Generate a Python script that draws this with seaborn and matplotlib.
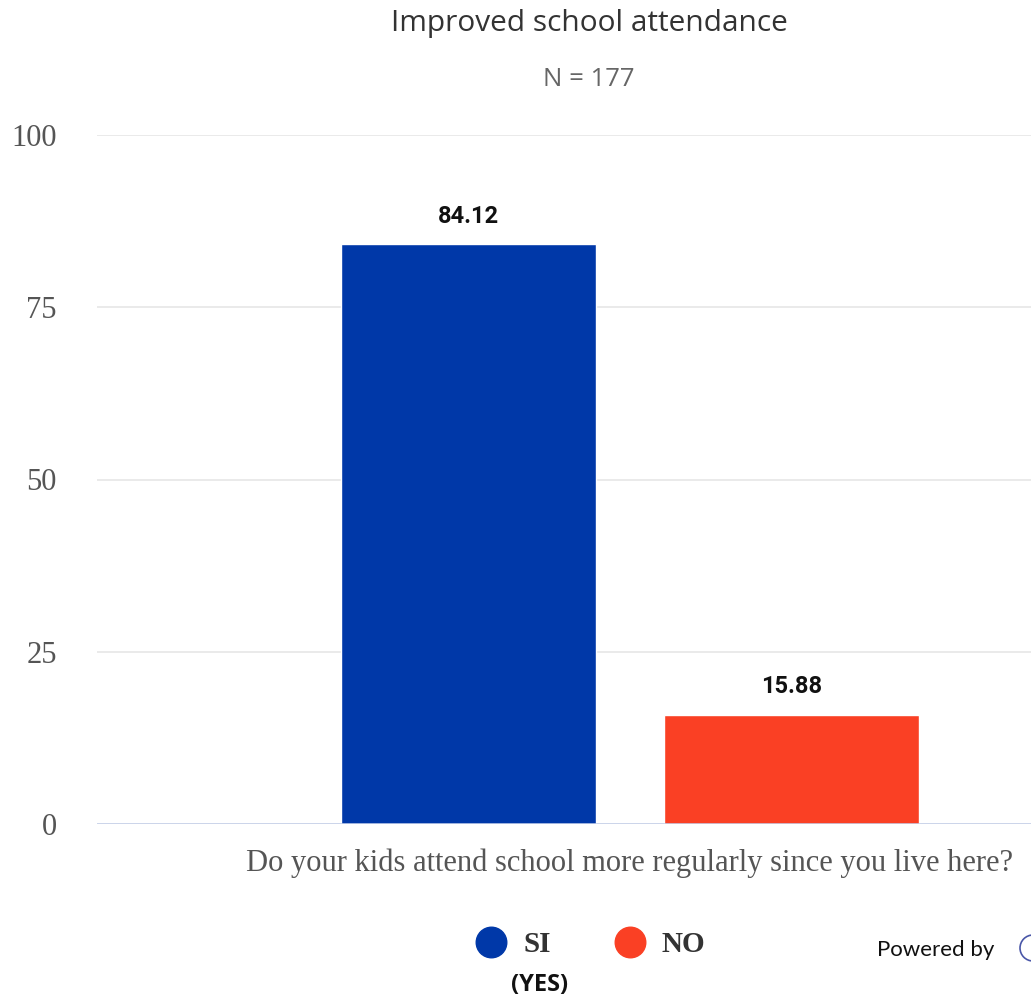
import matplotlib
matplotlib.use("Agg")
import matplotlib.pyplot as plt
from matplotlib.lines import Line2D
from matplotlib.patches import Ellipse
import pandas as pd
import seaborn as sns

# Survey data
TITLE = "Improved school attendance"
SUBTITLE = "N = 177"
QUESTION = "Do your kids attend school more regularly since you live here?"
ANSWERS = ["SI", "NO"]
PERCENTS = [84.12, 15.88]
COLORS = ["#0038a8", "#fa4024"]
Y_TICKS = [0, 25, 50, 75, 100]

sns.set_theme(style="white")

df = pd.DataFrame({
    "question": [QUESTION] * len(ANSWERS),
    "answer": ANSWERS,
    "pct": PERCENTS,
})

W, H = 1031, 999
fig = plt.figure(figsize=(W / 100, H / 100), dpi=100)
fig.patch.set_facecolor("white")

# plot area runs past the right edge of the canvas
ax = fig.add_axes([97 / W, 175 / H, 1066 / W, 689 / H])

sns.barplot(
    data=df, x="question", y="pct", hue="answer",
    palette=dict(zip(ANSWERS, COLORS)), hue_order=ANSWERS,
    width=0.605, gap=0.209, saturation=1, legend=False, ax=ax,
)

ax.set_xlim(-0.5, 0.5)
ax.set_ylim(0, 100)
ax.set_yticks(Y_TICKS)
ax.set_yticklabels([str(t) for t in Y_TICKS])
ax.set_xlabel("")
ax.set_ylabel("")

for s in ax.spines.values():
    s.set_visible(False)

ax.yaxis.grid(True, color="#e6e6e6", linewidth=1.2)
ax.set_axisbelow(True)
ax.axhline(0, color="#c3cfea", linewidth=1.8, zorder=3)

ax.tick_params(axis="y", length=0, pad=29, labelsize=22, labelcolor="#555555")
ax.tick_params(axis="x", length=0, pad=18, labelsize=22, labelcolor="#555555")
for lab in ax.get_yticklabels() + ax.get_xticklabels():
    lab.set_fontfamily("Liberation Serif")

# value labels on the bars
for cont in ax.containers:
    ax.bar_label(cont, fmt="%.2f", padding=12, fontsize=17,
                 fontweight="bold", fontfamily="Roboto", color="#111111")

# titles
fig.text(589 / W, 1 - 23 / H, TITLE, ha="center", va="center",
         fontsize=21.5, fontfamily="Open Sans", color="#333333")
fig.text(589 / W, 1 - 79 / H, SUBTITLE, ha="center", va="center",
         fontsize=18.5, fontfamily="Open Sans", color="#666666")

# legend
handles = [Line2D([], [], marker="o", linestyle="", markersize=22,
                  markerfacecolor=c, markeredgecolor=c) for c in COLORS]
leg = fig.legend(handles, ANSWERS, loc="center", bbox_to_anchor=(591 / W, 1 - 945 / H),
                 ncol=2, frameon=False, handlelength=1.0, handletextpad=0.6,
                 columnspacing=2.2, prop={"family": "Liberation Serif",
                                          "weight": "bold", "size": 21})
for t in leg.get_texts():
    t.set_color("#333333")

fig.text(540 / W, 1 - 985 / H, "(YES)", ha="center", va="center",
         fontsize=17, fontweight="bold", fontfamily="Open Sans", color="#111111")

fig.text(877 / W, 1 - 950 / H, "Powered by", ha="left", va="center",
         fontsize=16, fontfamily="Lato", color="#111111")
fig.add_artist(Ellipse((1033 / W, 1 - 948 / H), 26 / W, 26 / H,
                       transform=fig.transFigure, fill=False,
                       edgecolor="#4a57a8", linewidth=1.2))

fig.savefig("out.png", dpi=100)
